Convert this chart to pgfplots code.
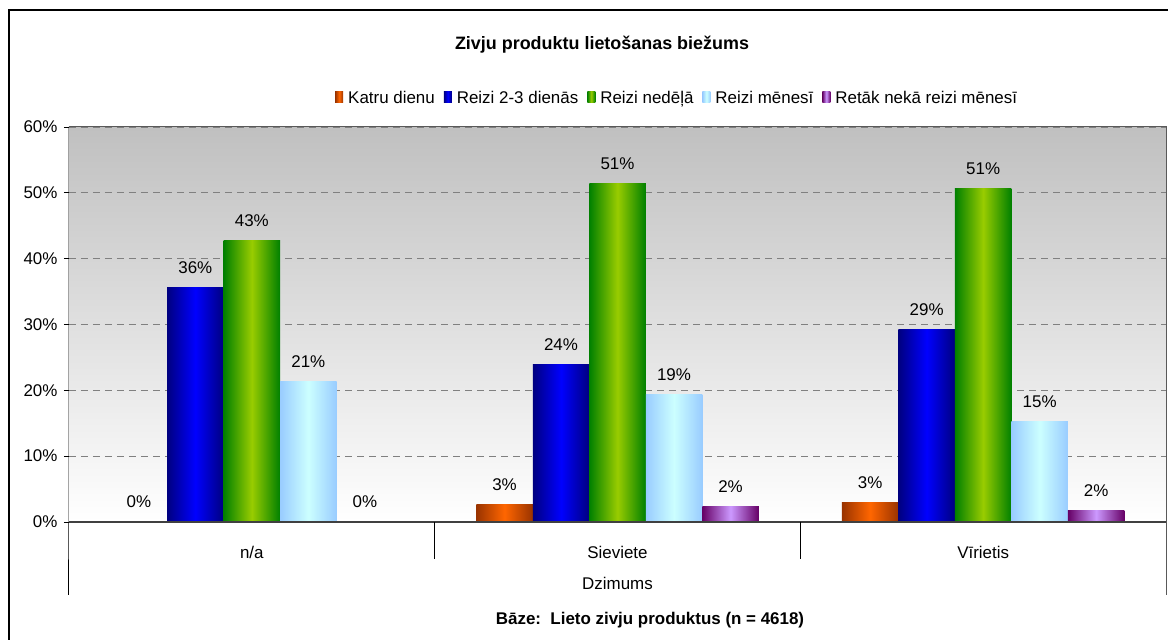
\documentclass[border=0pt]{standalone}
\usepackage{fontspec}
\setmainfont{Liberation Sans}
\usepackage{pgfplots}
\pgfplotsset{compat=1.18}

\definecolor{orgD}{HTML}{993300}
\definecolor{orgL}{HTML}{FF6600}
\definecolor{bluD}{HTML}{000080}
\definecolor{bluL}{HTML}{0000FF}
\definecolor{grnD}{HTML}{008000}
\definecolor{grnL}{HTML}{99CC00}
\definecolor{skyD}{HTML}{99CCFF}
\definecolor{skyL}{HTML}{CCFFFF}
\definecolor{purD}{HTML}{660066}
\definecolor{purL}{HTML}{CC99FF}
\definecolor{bgTop}{HTML}{C0C0C0}

% one bar per \addplot so that each bar gets its own shading
\pgfplotsset{
  bars/.style={ybar, bar width=56.5bp, draw=none, bar shift=#1,
    every node near coord/.append style={xshift=#1}},
  sOrg/.style={bars=-113bp, left color=orgD, right color=orgD, middle color=orgL},
  sBlu/.style={bars=-56.5bp, left color=bluD, right color=bluD, middle color=bluL},
  sGrn/.style={bars=0bp, left color=grnD, right color=grnD, middle color=grnL},
  sSky/.style={bars=56.5bp, left color=skyD, right color=skyD, middle color=skyL},
  sPur/.style={bars=113bp, left color=purD, right color=purD, middle color=purL},
}

\begin{document}
\begin{tikzpicture}[x=1bp,y=1bp]
\useasboundingbox (-69,-118) rectangle (1099,522);
\begin{axis}[
    at={(0,0)}, anchor=south west,
    scale only axis, width=1097bp, height=395bp,
    clip=false,
    xmin=-0.5, xmax=2.5, ymin=0, ymax=60,
    axis line style={draw=none},
    axis background/.style={shade, top color=bgTop, bottom color=white},
    font=\fontsize{17}{20}\selectfont,
    xtick={0,1,2}, xticklabels={n/a,Sieviete,Vīrietis},
    xtick style={draw=none},
    xticklabel style={anchor=center, yshift=-25bp},
    xlabel={Dzimums},
    xlabel style={at={(axis description cs:0.5,0)}, anchor=center, yshift=-61bp},
    ytick={0,10,20,30,40,50,60},
    yticklabels={0\%,10\%,20\%,30\%,40\%,50\%,60\%},
    ytick pos=left, tick align=outside, major tick length=5bp,
    ytick style={black, line width=0.8bp},
    yticklabel style={xshift=-3bp},
    ymajorgrids,
    major grid style={gray, line width=0.8bp, dash pattern=on 7bp off 5bp},
    nodes near coords={\pgfmathprintnumber[fixed,precision=0,assume math mode=true]{\pgfplotspointmeta}\%},
    every node near coord/.append style={anchor=base, yshift=14bp, text=black, font=\fontsize{17}{20}\selectfont},
    legend columns=-1,
    legend image code/.code={\path[#1, draw=none] (0bp,-5bp) rectangle (8bp,6bp);},
    legend style={draw=none, fill=none, inner sep=0pt, at={(0.2425,1.0734)}, anchor=west,
        font=\fontsize{17}{20}\selectfont,
        nodes={inner sep=2bp},
        /tikz/every odd column/.append style={column sep=3bp},
        /tikz/every even column/.append style={column sep=7bp}},
]
\addplot[sOrg] coordinates {(0,0.01)};
\addlegendentry{Katru dienu}
\addplot[sOrg, forget plot] coordinates {(1,2.6)};
\addplot[sOrg, forget plot] coordinates {(2,2.9)};

\addplot[sBlu] coordinates {(0,35.6)};
\addlegendentry{Reizi 2-3 dienās}
\addplot[sBlu, forget plot] coordinates {(1,23.9)};
\addplot[sBlu, forget plot] coordinates {(2,29.2)};

\addplot[sGrn] coordinates {(0,42.7)};
\addlegendentry{Reizi nedēļā}
\addplot[sGrn, forget plot] coordinates {(1,51.4)};
\addplot[sGrn, forget plot] coordinates {(2,50.6)};

\addplot[sSky] coordinates {(0,21.3)};
\addlegendentry{Reizi mēnesī}
\addplot[sSky, forget plot] coordinates {(1,19.3)};
\addplot[sSky, forget plot] coordinates {(2,15.3)};

\addplot[sPur] coordinates {(0,0.01)};
\addlegendentry{Retāk nekā reizi mēnesī}
\addplot[sPur, forget plot] coordinates {(1,2.3)};
\addplot[sPur, forget plot] coordinates {(2,1.7)};

\draw[gray!70!black, line width=1bp] (rel axis cs:0,1) -- (rel axis cs:1,1) -- (rel axis cs:1,0) -- ++(0bp,-73bp);
\draw[black, line width=1bp] (rel axis cs:0,1) -- (rel axis cs:0,0) -- ++(0bp,-73bp);
\draw[black!75, line width=1.3bp] (rel axis cs:0,0) -- (rel axis cs:1,0);
\draw[black, line width=0.8bp] (axis cs:0.5,0) -- ++(0bp,-37bp);
\draw[black, line width=0.8bp] (axis cs:1.5,0) -- ++(0bp,-37bp);
\end{axis}

\node[font=\bfseries\fontsize{18}{21}\selectfont] at (533,477) {Zivju produktu lietošanas biežums};
\node[font=\bfseries\fontsize{17}{20}\selectfont] at (581,-98) {Bāze:\ \ Lieto zivju produktus (n = 4618)};
\draw[black, line width=2bp] (-60,-118) -- (-60,512) -- (1099,512);
\end{tikzpicture}
\end{document}
